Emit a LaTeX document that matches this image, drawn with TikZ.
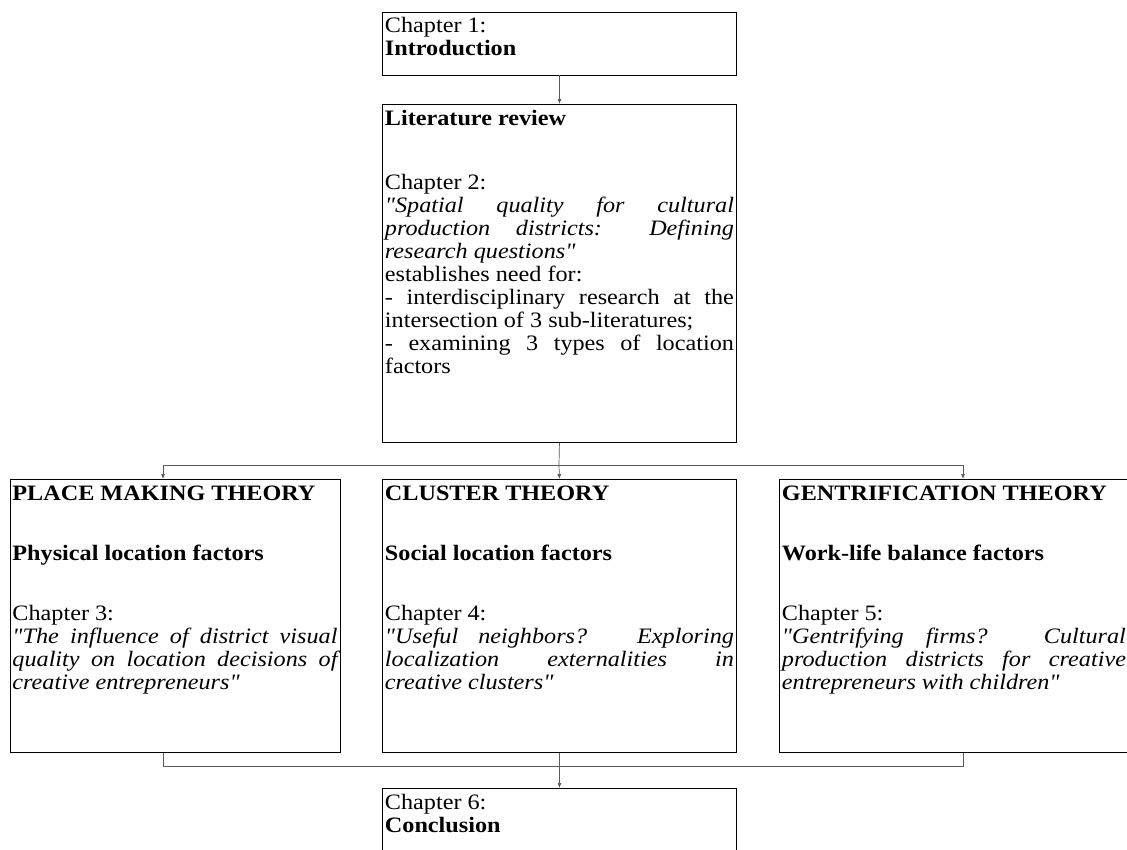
\documentclass[tikz,border=0pt]{standalone}
\usepackage{fontspec}
\setmainfont[FakeStretch=1.1,Ligatures=TeXOff]{Liberation Serif}
\usetikzlibrary{arrows.meta, positioning}
\tikzset{
  chapbox/.style={draw, line width=0.9pt, anchor=north west, inner sep=2.5pt},
  link/.style={draw=black!65, line width=0.7pt},
  arrow/.style={link, -{Latex[length=5pt,width=4pt]}}
}
\newcommand{\boxtext}[3]{\parbox[t][#2][t]{#1}{\fontsize{22}{23}\selectfont\rule{0pt}{18.5pt}#3}}
\newcommand{\gap}[1][1.6]{\vspace{#1\baselineskip}}

\begin{document}
\begin{tikzpicture}[x=1pt,y=-1pt]
		\useasboundingbox (0,0) rectangle (1127,849);
		% introduction and literature review
		\node[chapbox] (intro) at (382,11.5) {\boxtext{349pt}{58pt}{Chapter 1:\\ \textbf{Introduction}}};
		\node[chapbox] (lit) at (382,104) {\boxtext{349pt}{333pt}{\textbf{Literature review}\par
			\gap[1.8]Chapter 2:\par
			\textit{"Spatial quality for cultural\linebreak production districts: Defining\linebreak research questions"}\par
			establishes need for:\par
			- interdisciplinary research at the\linebreak intersection of 3 sub-literatures;\par
			- examining 3 types of location\linebreak factors}};
		
		% three theories
		\node[chapbox] (place) at (9.5,479) {\boxtext{325pt}{268pt}{\textbf{PLACE MAKING THEORY}\par
			\gap\textbf{Physical location factors}\par
			\gap Chapter 3:\par
			\textit{"The influence of district visual\linebreak quality on location decisions of\linebreak creative entrepreneurs"}}};
		\node[chapbox] (cluster) at (382,479) {\boxtext{349pt}{268pt}{\textbf{CLUSTER THEORY}\par
			\gap\textbf{Social location factors}\par
			\gap Chapter 4:\par
			\textit{"Useful neighbors? Exploring\linebreak localization externalities in\linebreak creative clusters"}}};
		\node[chapbox] (gentri) at (779,479) {\boxtext{344pt}{268pt}{\textbf{GENTRIFICATION THEORY}\par
			\gap\textbf{Work-life balance factors}\par
			\gap Chapter 5:\par
			\textit{"Gentrifying firms? Cultural\linebreak production districts for creative\linebreak entrepreneurs with children"}}};
		
		% conclusion
		\node[chapbox] (concl) at (382,788) {\boxtext{349pt}{75pt}{Chapter 6:\\ \textbf{Conclusion}}};
		
		% branch points
		\coordinate (splitT) at (559,465);
		\coordinate (leftT) at (163,465);
		\coordinate (rightT) at (963,465);
		\coordinate (leftB) at (163,766);
		\coordinate (rightB) at (963,766);
		
		\draw[arrow] (intro) -- (lit);
		\draw[link] (lit.south) -- (splitT);
		\draw[link] (leftT) -- (rightT);
		\draw[arrow] (leftT) -- (leftT |- place.north);
		\draw[arrow] (splitT) -- (cluster.north);
		\draw[arrow] (rightT) -- (rightT |- gentri.north);
		% back together
		\draw[link] (leftT |- place.south) -- (leftB) -- (rightB) -- (rightT |- gentri.south);
		\draw[arrow] (cluster.south) -- (concl.north);
	\end{tikzpicture}
\end{document}
